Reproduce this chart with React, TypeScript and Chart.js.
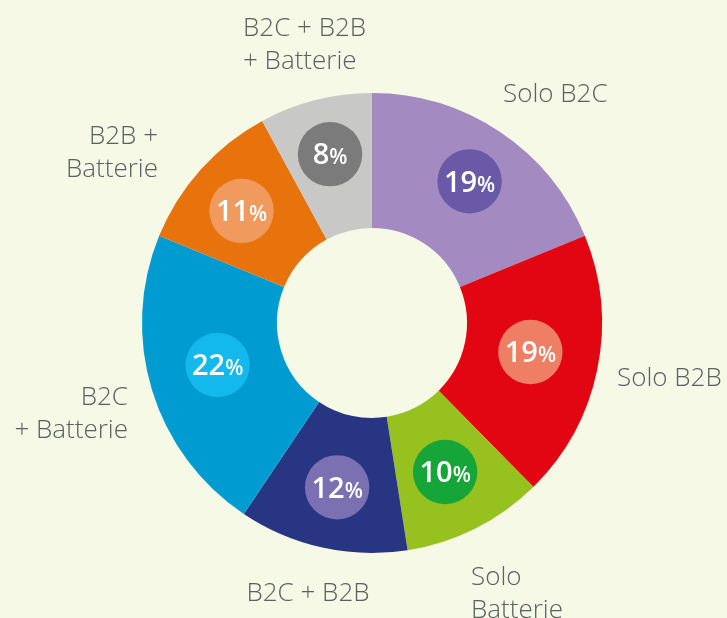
import React, { useEffect, useRef } from "react";
import { Chart, registerables } from "chart.js";

Chart.register(...registerables);

const categories = [
  "Solo B2C",
  "Solo B2B",
  "Solo Batterie",
  "B2C + B2B",
  "B2C + Batterie",
  "B2B + Batterie",
  "B2C + B2B + Batterie",
];
const values = [19, 19, 10, 12, 22, 11, 8];
const percentLabels = ["19", "19", "10", "12", "22", "11", "8"];
const labelLines = [
  ["Solo B2C"],
  ["Solo B2B"],
  ["Solo", "Batterie"],
  ["B2C + B2B"],
  ["B2C", "+ Batterie"],
  ["B2B +", "Batterie"],
  ["B2C + B2B", "+ Batterie"],
];
const sliceColors = ["#a38bc2", "#e20613", "#97c11f", "#283583", "#009bd1", "#e8720c", "#c8c8c6"];
const badgeColors = ["#6a59a6", "#ee7f64", "#16a539", "#7b70b2", "#13b8ec", "#f09a5d", "#7b7b7b"];

// badge placement: radial distance (fraction of outer radius) and angle tweak (degrees)
const badgeLayout = [
  { r: 172 / 230, da: 0.7 },
  { r: 161 / 230, da: -1.2 },
  { r: 166 / 230, da: 0.6 },
  { r: 168 / 230, da: -0.5 },
  { r: 160 / 230, da: 1.7 },
  { r: 172 / 230, da: -1.2 },
  { r: 174 / 230, da: 0.3 },
];

// label anchor: offsets from chart centre in units of the outer radius (cap-centre of first line)
const labelLayout = [
  { dx: 131 / 230, dy: -230 / 230, align: "left" },
  { dx: 245 / 230, dy: 54 / 230, align: "left" },
  { dx: 99 / 230, dy: 253 / 230, align: "left" },
  { dx: -64 / 230, dy: 269 / 230, align: "center" },
  { dx: -244 / 230, dy: 73 / 230, align: "right" },
  { dx: -214 / 230, dy: -188 / 230, align: "right" },
  { dx: -129 / 230, dy: -296 / 230, align: "left" },
];

const FONT = "'Open Sans', 'DejaVu Sans', sans-serif";

const overlayPlugin = {
  id: "overlay",
  afterDatasetsDraw(chart: any) {
    const ctx = chart.ctx as CanvasRenderingContext2D;
    const meta = chart.getDatasetMeta(0);
    ctx.save();
    meta.data.forEach((arc: any, i: number) => {
      const p = arc.getProps(["x", "y", "startAngle", "endAngle", "innerRadius", "outerRadius"], true);
      const bl = badgeLayout[i];
      const mid = (p.startAngle + p.endAngle) / 2 + (bl.da * Math.PI) / 180;
      const r = p.outerRadius * bl.r;
      const bx = p.x + Math.cos(mid) * r;
      const by = p.y + Math.sin(mid) * r;
      const br = p.outerRadius * 0.14;
      ctx.beginPath();
      ctx.arc(bx, by, br, 0, Math.PI * 2);
      ctx.fillStyle = badgeColors[i];
      ctx.fill();

      const numSize = 29;
      const pctSize = 21;
      ctx.fillStyle = "#ffffff";
      ctx.textBaseline = "alphabetic";
      ctx.textAlign = "left";
      ctx.font = `600 ${numSize}px ${FONT}`;
      const nw = ctx.measureText(percentLabels[i]).width;
      ctx.font = `600 ${pctSize}px ${FONT}`;
      const pw = ctx.measureText("%").width;
      const start = bx - (nw + pw) / 2;
      const base = by + numSize * 0.357;
      ctx.font = `600 ${numSize}px ${FONT}`;
      ctx.fillText(percentLabels[i], start, base);
      ctx.font = `600 ${pctSize}px ${FONT}`;
      ctx.fillText("%", start + nw, base);

      // outer label
      const lay = labelLayout[i];
      const size = 26;
      ctx.font = `300 ${size}px ${FONT}`;
      ctx.fillStyle = "#5b6061";
      ctx.textAlign = lay.align as CanvasTextAlign;
      const lx = p.x + lay.dx * p.outerRadius;
      const ly = p.y + lay.dy * p.outerRadius;
      labelLines[i].forEach((line, j) => {
        ctx.fillText(line, lx, ly + j * 33 + size * 0.357);
      });
    });
    ctx.restore();
  },
};

export default function App() {
  const ref = useRef<HTMLCanvasElement | null>(null);
  useEffect(() => {
    if (!ref.current) return;
    const chart = new Chart(ref.current, {
      type: "doughnut",
      data: {
        labels: categories,
        datasets: [
          {
            data: values,
            backgroundColor: sliceColors,
            borderWidth: 0,
          },
        ],
      },
      options: {
        animation: false,
        responsive: true,
        maintainAspectRatio: false,
        cutout: "41.3%",
        layout: { padding: { left: 142, right: 125, top: 93, bottom: 65 } },
        plugins: { legend: { display: false }, tooltip: { enabled: false } },
      },
      plugins: [overlayPlugin],
    });
    return () => chart.destroy();
  }, []);
  return (
    <div
      style={{
        position: "absolute",
        left: 0,
        top: 0,
        width: 727,
        height: 618,
        background: "#f7f9e7",
        overflow: "hidden",
      }}
    >
      <canvas ref={ref} />
    </div>
  );
}
